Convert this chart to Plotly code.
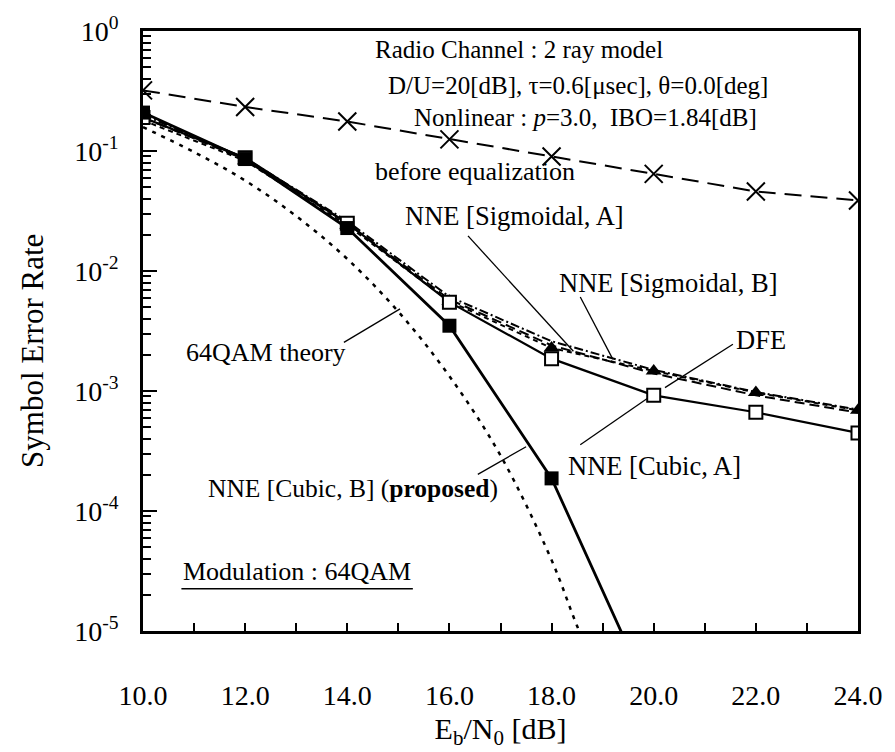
import plotly.graph_objects as go

# ---------------- data ----------------
ebn0 = [10, 12, 14, 16, 18, 20, 22, 24]

theory_x = [10, 11, 12, 13, 14, 15, 16, 17, 18, 18.5, 19]
theory_ser = [0.158, 0.098, 0.0567, 0.0287, 0.0126, 0.00458, 0.00133, 2.9e-4, 3.9e-5, 1.1e-5, 3.5e-6]

before_eq = [0.32, 0.233, 0.176, 0.125, 0.090, 0.0645, 0.046, 0.0387]
sig_a = [0.19, 0.085, 0.025, 0.0058, 0.0024, 0.0014, 0.00092, 0.00066]
sig_b = [0.20, 0.087, 0.026, 0.0061, 0.0026, 0.0015, 0.00098, 0.00070]
dfe = [0.18, 0.083, 0.024, 0.0056, 0.00228, 0.00147, 0.00097, 0.00069]
cubic_a = [0.19, 0.088, 0.025, 0.0055, 0.00186, 0.00092, 0.000665, 0.000447]
cubic_b_x = [10, 12, 14, 16, 18, 20]
cubic_b = [0.209, 0.0857, 0.0228, 0.0035, 0.000187, 2.5e-6]

x_ticks = [10, 12, 14, 16, 18, 20, 22, 24]
x_ticklabels = ["10.0", "12.0", "14.0", "16.0", "18.0", "20.0", "22.0", "24.0"]
y_ticks = [1, 0.1, 0.01, 0.001, 0.0001, 0.00001]
y_ticklabels = ["10<sup>0</sup>", "10<sup>-1</sup>", "10<sup>-2</sup>",
                "10<sup>-3</sup>", "10<sup>-4</sup>", "10<sup>-5</sup>"]

FONT = "Liberation Serif"
W, H = 895, 752
L, R, T, B = 143, 869, 25, 634


def px(x):
    return (x - L) / (R - L)


def py(y):
    return (B - y) / (B - T)


fig = go.Figure()

fig.add_trace(go.Scatter(x=theory_x, y=theory_ser, mode="lines", line_shape="spline",
                         line=dict(color="black", width=2.5, dash="4px,6px"),
                         name="64QAM theory"))
fig.add_trace(go.Scatter(x=ebn0, y=before_eq, mode="lines+markers",
                         line=dict(color="black", width=2, dash="17px,9px"),
                         marker=dict(symbol="x-thin-open", size=18,
                                     line=dict(color="black", width=2)),
                         name="before equalization"))
fig.add_trace(go.Scatter(x=ebn0, y=sig_a, mode="lines",
                         line=dict(color="black", width=2, dash="10px,5px"),
                         name="NNE [Sigmoidal, A]"))
fig.add_trace(go.Scatter(x=ebn0, y=sig_b, mode="lines",
                         line=dict(color="black", width=2, dash="9px,3px,2px,3px"),
                         name="NNE [Sigmoidal, B]"))
fig.add_trace(go.Scatter(x=ebn0, y=dfe, mode="lines+markers",
                         line=dict(color="black", width=2, dash="5px,4px"),
                         marker=dict(symbol="triangle-up", size=14, color="black"),
                         name="DFE"))
fig.add_trace(go.Scatter(x=ebn0, y=cubic_a, mode="lines+markers",
                         line=dict(color="black", width=2.2),
                         marker=dict(symbol="square", size=13, color="white",
                                     line=dict(color="black", width=2)),
                         name="NNE [Cubic, A]"))
fig.add_trace(go.Scatter(x=cubic_b_x, y=cubic_b, mode="lines+markers",
                         line=dict(color="black", width=2.8),
                         marker=dict(symbol="square", size=14, color="black"),
                         name="NNE [Cubic, B]"))

# minor ticks on the log axis
minor_y = [m * 10 ** e for e in range(-5, 0) for m in range(2, 10)]

fig.update_layout(
    width=W, height=H,
    margin=dict(l=L, r=W - R, t=T, b=H - B),
    paper_bgcolor="white", plot_bgcolor="white",
    showlegend=False,
    font=dict(family=FONT, color="black", size=25),
)

fig.update_xaxes(range=[10, 24], tickvals=x_ticks, ticktext=x_ticklabels,
                 ticks="inside", ticklen=8, tickwidth=2, tickcolor="black",
                 minor=dict(ticks="inside", ticklen=8, tickwidth=2, tickcolor="black", dtick=1),
                 showline=True, linecolor="black", linewidth=2.5, mirror=True,
                 showgrid=False, zeroline=False,
                 tickfont=dict(family=FONT, size=28, color="black"),
                 ticklabelstandoff=38,
                 title=dict(text="E<sub>b</sub>/N<sub>0</sub> [dB]",
                            font=dict(family=FONT, size=30, color="black"), standoff=8))

fig.update_yaxes(type="log", range=[-5, 0], tickvals=y_ticks, ticktext=y_ticklabels,
                 ticks="inside", ticklen=14, tickwidth=2, tickcolor="black",
                 minor=dict(ticks="inside", ticklen=8, tickwidth=2, tickcolor="black",
                            tickvals=minor_y),
                 showline=True, linecolor="black", linewidth=2.5, mirror=True,
                 showgrid=False, zeroline=False,
                 tickfont=dict(family=FONT, size=28, color="black"),
                 ticklabelstandoff=16)

# ---------------- annotations ----------------
def txt(x, y, s, anchor="left", size=25, angle=0):
    fig.add_annotation(x=px(x), y=py(y), xref="paper", yref="paper", text=s,
                       showarrow=False, xanchor=anchor, yanchor="middle",
                       textangle=angle,
                       font=dict(family=FONT, size=size, color="black"))


def seg(x0, y0, x1, y1, w=1.3):
    fig.add_shape(type="line", xref="paper", yref="paper",
                  x0=px(x0), y0=py(y0), x1=px(x1), y1=py(y1),
                  line=dict(color="black", width=w))


txt(30, 350, "Symbol Error Rate", anchor="center", size=31, angle=-90)
txt(525, 44, "Radio Channel : 2 ray model", anchor="center")
txt(585, 80, "D/U=20[dB], \u03c4=0.6[\u03bcsec], \u03b8=0.0[deg]", anchor="center")
txt(592, 113, "Nonlinear : <i>p</i>=3.0,\u00a0\u00a0IBO=1.84[dB]", anchor="center")
txt(377, 168, "before equalization", size=26)
txt(407, 213, "NNE [Sigmoidal, A]", size=26.5)
txt(563, 281, "NNE [Sigmoidal, B]", size=26.5)
txt(743, 339, "DFE", size=26.5)
txt(185, 351, "64QAM theory", size=26)
txt(573, 467, "NNE [Cubic, A]", size=26.5)
txt(207, 489, "NNE [Cubic, B] (<b>proposed</b>)", size=25.5)
txt(182, 574, "Modulation : 64QAM", size=26)
seg(182, 591, 417, 591, 1.5)

# leader lines
seg(347, 341, 404, 307)
seg(473, 233, 580, 350)
seg(587, 295, 620, 358)
seg(742, 343, 673, 387)
seg(587, 445, 655, 398)
seg(483, 475, 532, 447)

fig.write_html("out.html")
